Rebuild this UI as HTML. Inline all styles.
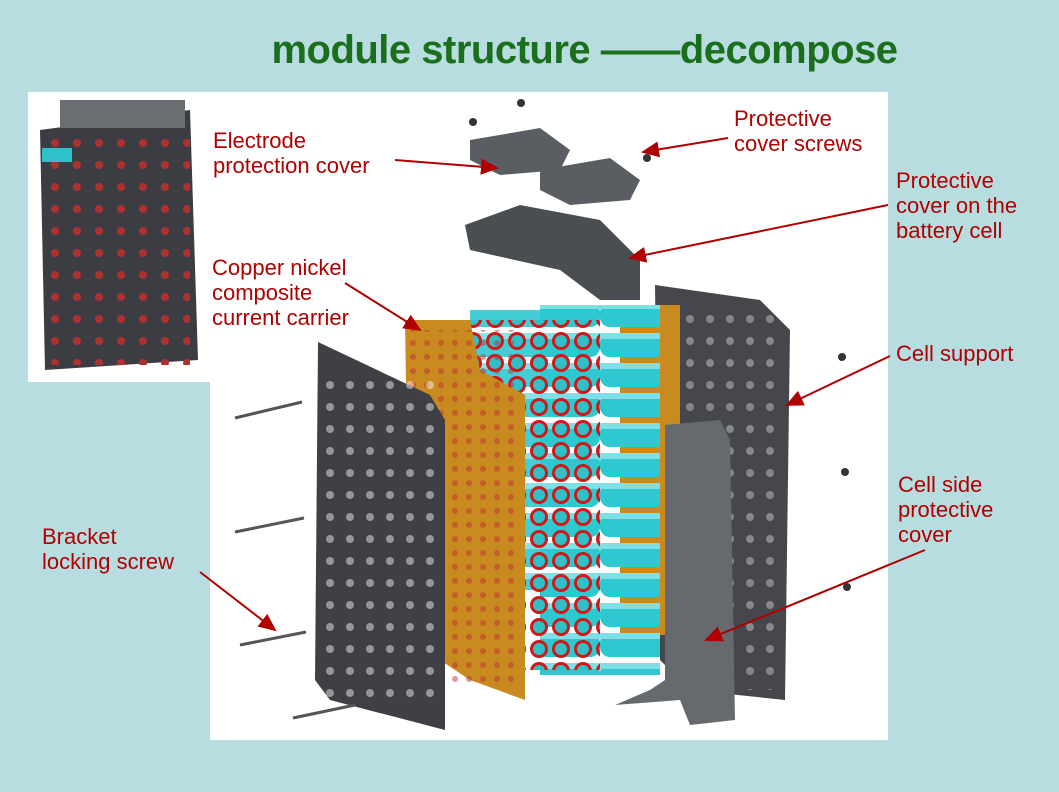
<!DOCTYPE html>
<html><head><meta charset="utf-8"><style>
html,body{margin:0;padding:0;}
body{width:1059px;height:792px;background:#b8dde0;position:relative;overflow:hidden;font-family:"Liberation Sans",sans-serif;}
.t{position:absolute;left:0;width:1059px;top:28px;text-align:center;font-weight:bold;font-size:40px;color:#1b6e1b;letter-spacing:-0.5px;}
.l{position:absolute;color:#b00000;font-size:22px;line-height:25px;}
svg{position:absolute;left:0;top:0;}
</style></head><body>
<div class="t" style="left:0;padding-left:110px;box-sizing:border-box;">module structure ——decompose</div>
<svg width="1059" height="792">
<defs>
<marker id="a" markerWidth="10" markerHeight="10" refX="8" refY="5" orient="auto"><path d="M0,1 L9,5 L0,9 z" fill="#b00000"/></marker>
<pattern id="cells" width="22" height="22" patternUnits="userSpaceOnUse"><circle cx="11" cy="11" r="9" fill="#d01818"/><circle cx="11" cy="11" r="6" fill="#30c0c8"/></pattern>
<pattern id="holes" width="20" height="22" patternUnits="userSpaceOnUse"><circle cx="10" cy="11" r="4" fill="#fff"/></pattern>
<pattern id="holes2" width="14" height="14" patternUnits="userSpaceOnUse"><circle cx="7" cy="7" r="3" fill="#c03030"/></pattern>
<pattern id="holes3" width="22" height="22" patternUnits="userSpaceOnUse"><circle cx="11" cy="11" r="4" fill="#b03030"/></pattern>
<pattern id="cyl" width="200" height="30" patternUnits="userSpaceOnUse"><rect x="0" y="3" width="200" height="24" rx="10" fill="#2ec8d0"/><rect x="0" y="3" width="200" height="6" fill="#7ee0e6"/></pattern>
</defs>
<rect x="210" y="92" width="678" height="648" fill="#fff"/>
<rect x="28" y="92" width="182" height="290" fill="#fff"/>
<!-- inset module -->
<path d="M40,130 L190,110 L198,360 L45,370 z" fill="#3b3d42"/>
<rect x="40" y="130" width="150" height="235" fill="url(#holes3)"/>
<rect x="42" y="148" width="30" height="14" fill="#30c0c8"/>
<rect x="60" y="100" width="125" height="28" fill="#6a6d72"/>
<!-- top covers -->
<path d="M470,140 L540,128 L570,150 L560,170 L500,175 L470,160 z" fill="#5a5d62"/>
<path d="M540,170 L610,158 L640,180 L630,200 L570,205 L540,190 z" fill="#5a5d62"/>
<path d="M465,225 L520,205 L600,220 L640,260 L640,300 L600,300 L560,270 L470,250 z" fill="#4a4d52"/>
<!-- right plate -->
<path d="M655,285 L760,300 L790,330 L785,700 L690,690 L660,660 z" fill="#45474c"/>
<rect x="670" y="310" width="110" height="380" fill="url(#holes)" opacity="0.35"/>
<!-- right orange -->
<rect x="620" y="305" width="60" height="330" fill="#c98a20"/>
<!-- cylinders -->
<rect x="540" y="305" width="120" height="370" fill="url(#cyl)"/>
<rect x="470" y="310" width="190" height="280" fill="url(#cyl)" opacity="0.9"/>
<rect x="470" y="320" width="130" height="350" fill="url(#cells)"/>
<!-- left orange carrier -->
<path d="M405,320 L470,320 L480,370 L525,395 L525,700 L470,680 L410,640 z" fill="#c98a20"/>
<rect x="410" y="330" width="110" height="360" fill="url(#holes2)" opacity="0.5"/>
<!-- left plate -->
<path d="M318,342 L430,395 L445,420 L445,730 L330,700 L315,680 z" fill="#3e4045"/>
<rect x="322" y="380" width="118" height="330" fill="url(#holes)" opacity="0.45"/>
<!-- side cover -->
<path d="M665,425 L720,420 L730,440 L735,720 L690,725 L680,700 L615,705 L650,690 L665,680 z" fill="#66696e"/>
<!-- screws -->
<g stroke="#555" stroke-width="3">
<line x1="235" y1="418" x2="302" y2="402"/><line x1="235" y1="532" x2="304" y2="518"/>
<line x1="240" y1="645" x2="306" y2="632"/><line x1="293" y1="718" x2="355" y2="705"/>
</g>
<g fill="#333"><circle cx="842" cy="357" r="4"/><circle cx="845" cy="472" r="4"/><circle cx="847" cy="587" r="4"/><circle cx="473" cy="122" r="4"/><circle cx="521" cy="103" r="4"/><circle cx="647" cy="158" r="4"/></g>
<!-- arrows -->
<g stroke="#b00000" stroke-width="2" fill="none" marker-end="url(#a)">
<line x1="395" y1="160" x2="497" y2="168"/>
<line x1="728" y1="138" x2="643" y2="152"/>
<line x1="888" y1="205" x2="630" y2="258"/>
<line x1="345" y1="283" x2="420" y2="330"/>
<line x1="890" y1="356" x2="787" y2="405"/>
<line x1="925" y1="550" x2="706" y2="640"/>
<line x1="200" y1="572" x2="275" y2="630"/>
</g>
</svg>
<div class="l" style="left:213px;top:128px;">Electrode<br>protection cover</div>
<div class="l" style="left:734px;top:106px;">Protective<br>cover screws</div>
<div class="l" style="left:896px;top:168px;">Protective<br>cover on the<br>battery cell</div>
<div class="l" style="left:212px;top:255px;">Copper nickel<br>composite<br>current carrier</div>
<div class="l" style="left:896px;top:341px;">Cell support</div>
<div class="l" style="left:898px;top:472px;">Cell side<br>protective<br>cover</div>
<div class="l" style="left:42px;top:524px;">Bracket<br>locking screw</div>
</body></html>
